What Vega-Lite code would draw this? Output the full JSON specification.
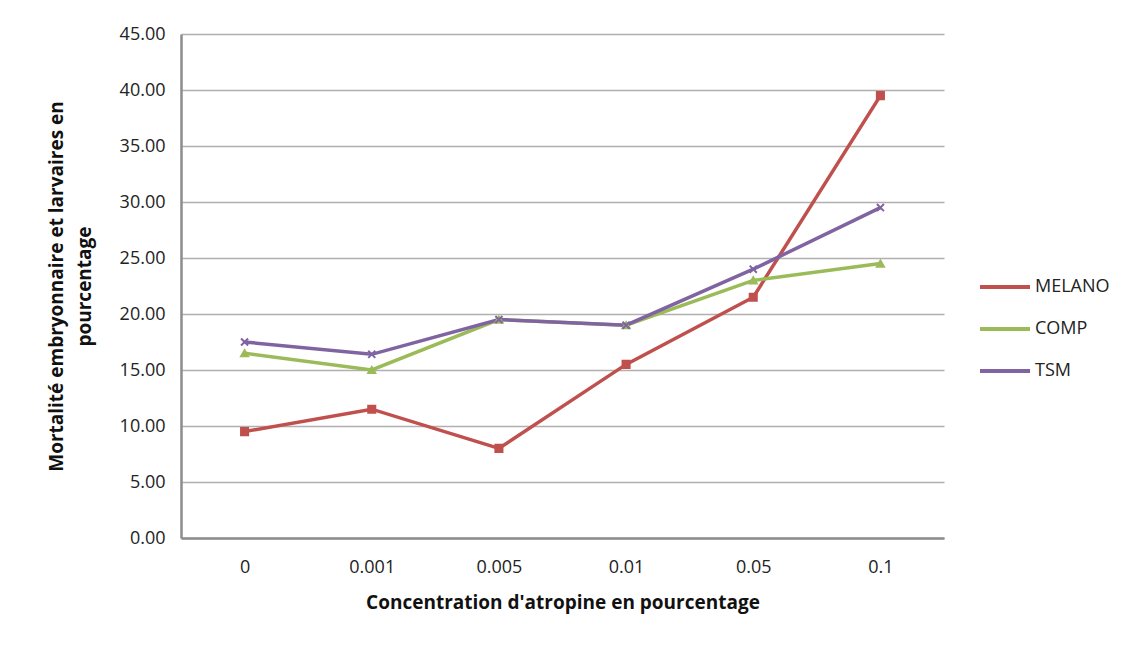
{
  "$schema": "https://vega.github.io/schema/vega-lite/v6.json",
  "width": 763,
  "height": 504,
  "autosize": "none",
  "padding": {"left": 181, "top": 34, "right": 195, "bottom": 108},
  "background": "white",
  "config": {
    "font": "Open Sans",
    "view": {"stroke": null}
  },
  "data": {
    "values": [
      {"conc": "0", "series": "MELANO", "value": 9.5},
      {"conc": "0.001", "series": "MELANO", "value": 11.5},
      {"conc": "0.005", "series": "MELANO", "value": 8.0},
      {"conc": "0.01", "series": "MELANO", "value": 15.5},
      {"conc": "0.05", "series": "MELANO", "value": 21.5},
      {"conc": "0.1", "series": "MELANO", "value": 39.5},
      {"conc": "0", "series": "COMP", "value": 16.5},
      {"conc": "0.001", "series": "COMP", "value": 15.0},
      {"conc": "0.005", "series": "COMP", "value": 19.5},
      {"conc": "0.01", "series": "COMP", "value": 19.0},
      {"conc": "0.05", "series": "COMP", "value": 23.0},
      {"conc": "0.1", "series": "COMP", "value": 24.5},
      {"conc": "0", "series": "TSM", "value": 17.5},
      {"conc": "0.001", "series": "TSM", "value": 16.4},
      {"conc": "0.005", "series": "TSM", "value": 19.5},
      {"conc": "0.01", "series": "TSM", "value": 19.0},
      {"conc": "0.05", "series": "TSM", "value": 24.0},
      {"conc": "0.1", "series": "TSM", "value": 29.5}
    ]
  },
  "encoding": {
    "x": {
      "field": "conc",
      "type": "ordinal",
      "sort": null,
      "scale": {"type": "point", "padding": 0.5},
      "axis": {
        "title": "Concentration d'atropine en pourcentage",
        "titleFontSize": 19,
        "titleFontWeight": "bold",
        "titleColor": "#111111",
        "titlePadding": 17,
        "labelAngle": 0,
        "labelFontSize": 18,
        "labelColor": "#222222",
        "labelPadding": 20,
        "ticks": false,
        "domainColor": "#8C8C8C",
        "domainWidth": 2.5,
        "grid": false
      }
    },
    "y": {
      "field": "value",
      "type": "quantitative",
      "scale": {"domain": [0, 45], "nice": false},
      "axis": {
        "title": ["Mortalité embryonnaire et larvaires en", "pourcentage"],
        "titleFontSize": 19,
        "titleFontWeight": "bold",
        "titleColor": "#111111",
        "titleX": -115,
        "titleLineHeight": 28,
        "values": [0, 5, 10, 15, 20, 25, 30, 35, 40, 45],
        "format": ".2f",
        "labelFontSize": 18,
        "labelColor": "#222222",
        "labelPadding": 16,
        "ticks": false,
        "domainColor": "#8C8C8C",
        "domainWidth": 2.5,
        "grid": true,
        "gridColor": "#B0B0B0",
        "gridWidth": 1.5
      }
    }
  },
  "resolve": {"legend": {"shape": "independent", "stroke": "independent", "color": "independent"}},
  "layer": [
    {
      "mark": {"type": "line", "strokeWidth": 3.5},
      "encoding": {
        "color": {
          "field": "series",
          "type": "nominal",
          "scale": {"domain": ["MELANO", "COMP", "TSM"], "range": ["#C0504D", "#9BBB59", "#8064A2"]},
          "legend": {
            "title": null,
            "orient": "none",
            "legendX": 797,
            "legendY": 226,
            "symbolType": "stroke",
            "symbolSize": 2500,
            "symbolStrokeWidth": 4,
            "labelFontSize": 18,
            "labelColor": "#222222",
            "labelOffset": 3,
            "rowPadding": 6
          }
        }
      }
    },
    {
      "mark": {"type": "point", "filled": true, "size": 50, "opacity": 1, "strokeWidth": 2},
      "encoding": {
        "color": {"field": "series", "type": "nominal", "legend": null},
        "stroke": {"field": "series", "type": "nominal", "scale": {"domain": ["MELANO", "COMP", "TSM"], "range": ["#C0504D", "#9BBB59", "#8064A2"]}, "legend": null},
        "shape": {
          "field": "series",
          "type": "nominal",
          "scale": {"domain": ["MELANO", "COMP", "TSM"], "range": ["square", "triangle-up", "M-1,-1L1,1M-1,1L1,-1"]},
          "legend": null
        }
      }
    }
  ]
}
